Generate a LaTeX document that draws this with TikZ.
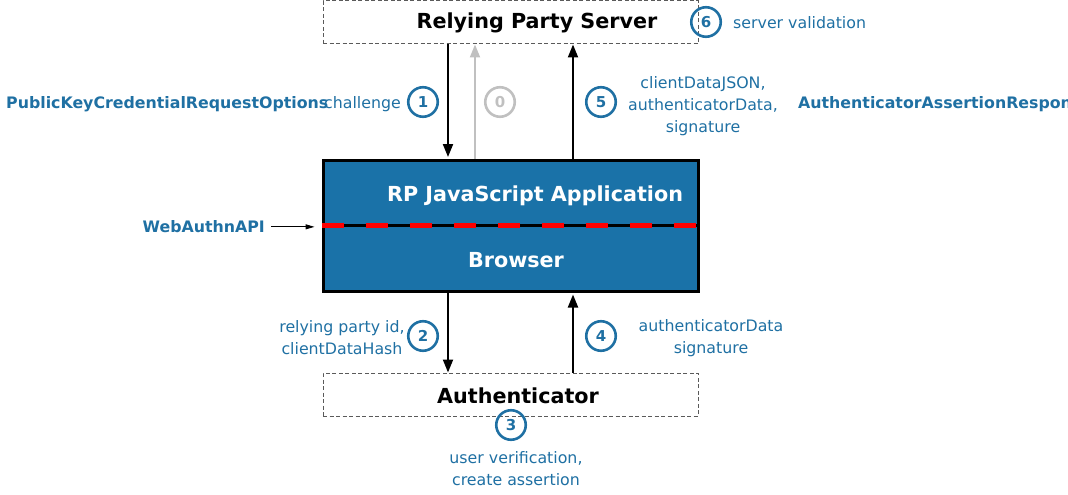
\documentclass[tikz,border=0pt]{standalone}
\usepackage{fontspec}
\setmainfont{DejaVu Sans}
\usetikzlibrary{arrows.meta}
\definecolor{labelblue}{RGB}{31,112,163}
\definecolor{boxblue}{RGB}{26,114,168}
\definecolor{lightgrey}{RGB}{192,192,192}
\definecolor{dashgrey}{RGB}{90,90,90}

\begin{document}
\begin{tikzpicture}[x=1pt, y=-1pt,
            lbl/.style={text=labelblue, font=\fontsize{15.8}{22}\selectfont, align=center, inner sep=0pt},
            lblbold/.style={lbl, font=\fontsize{15.8}{22}\selectfont\bfseries},
            num/.style={circle, draw=labelblue, line width=2.6pt, minimum size=29.5pt, inner sep=0pt, text=labelblue, font=\fontsize{15}{15}\selectfont\bfseries},
            party/.style={draw=dashgrey, dash pattern=on 4pt off 2.5pt, line width=1pt, minimum width=375pt, minimum height=43pt, inner sep=0pt},
            layer/.style={draw=black, fill=boxblue, line width=3pt, minimum width=375pt, inner sep=0pt},
            title/.style={font=\fontsize{20.7}{24}\selectfont\bfseries, inner sep=0pt},
            flow/.style={line width=2pt, -{Triangle[length=13pt,width=10pt]}}]
            \useasboundingbox (0,0) rectangle (1068,495);
            % boxes
            \node[party] (rps) at (510.5,22.5) {};
            \node[party] (auth) at (510.5,394.5) {};
            \node[layer, minimum height=65pt] (app) at (510.5,192.5) {};
            \node[layer, minimum height=66pt] (browser) at (510.5,258.5) {};
            \draw[red, line width=4.5pt, dash pattern=on 22pt off 22pt] ([yshift=1pt]app.south west) -- ([yshift=1pt]app.south east);
            \node[title] (rpst) at (537,23) {Relying Party Server};
            \node[title] (autht) at (518,396) {Authenticator};
            \node[title, text=white] (appt) at (535,195.5) {RP JavaScript Application};
            \node[title, text=white] (browsert) at (516,260) {Browser};
            % connectors
            \coordinate (xl) at (448,0);
            \coordinate (xm) at (475,0);
            \coordinate (xr) at (573,0);
            \draw[flow, shorten >=1.5pt] (xl |- rps.south) -- (xl |- app.north);
            \draw[flow, lightgrey] (xm |- app.north) -- (xm |- rps.south);
            \draw[flow] (xr |- app.north) -- (xr |- rps.south);
            \draw[flow] (xl |- browser.south) -- (xl |- auth.north);
            \draw[flow, shorten >=1.5pt] (xr |- auth.north) -- (xr |- browser.south);
            \node[lblbold, anchor=mid east] (api) at (265,230) {WebAuthnAPI};
            \draw[line width=1pt, -{Triangle[length=9pt,width=5pt]}, shorten <=6pt, shorten >=7pt] (api.east) -- (api.east -| app.south west);
            % steps
            \node[num, draw=lightgrey, text=lightgrey] (n0) at (500,102) {0};
            \node[num] (n1) at (423,102) {1};
            \node[num] (n2) at (423,336) {2};
            \node[num] (n3) at (511,425) {3};
            \node[num] (n4) at (601,336) {4};
            \node[num] (n5) at (601,102) {5};
            \node[num] (n6) at (706,22) {6};
            % labels
            \node[lblbold, anchor=mid west] (opts) at (6,105.5) {PublicKeyCredentialRequestOptions};
            \node[lbl, anchor=mid east] (chal) at (401,105.5) {challenge};
            \node[lbl] (resp) at (703,106) {clientDataJSON,\\authenticatorData,\\signature};
            \node[lblbold, anchor=mid west] (assert) at (798,105.5) {AuthenticatorAssertionResponse};
            \node[lbl, anchor=mid west] (valid) at (733,25.5) {server validation};
            \node[lbl] (rpid) at (342,337.5) {relying party id,\\clientDataHash};
            \node[lbl] (adata) at (711,338) {authenticatorData\\signature};
            \node[lbl] (uv) at (516,469) {user verification,\\create assertion};
        \end{tikzpicture}
\end{document}
